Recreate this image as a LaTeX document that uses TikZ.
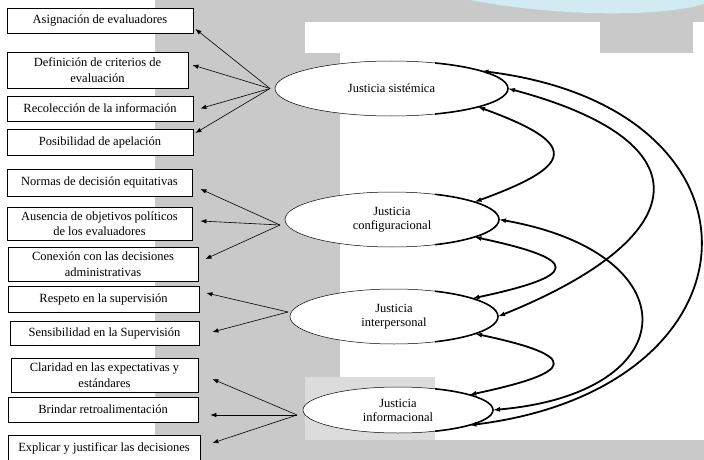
\documentclass[tikz,border=0pt]{standalone}
\usepackage{fontspec}
\setmainfont{Liberation Serif}
\usepackage{xcolor}
\usetikzlibrary{shapes.geometric,arrows.meta}
\definecolor{fondo}{HTML}{C9C9C9}
\definecolor{fondoclaro}{HTML}{DCDCDC}
\definecolor{celeste}{HTML}{D2EBF3}

\begin{document}
\begin{tikzpicture}[x=1pt,y=1pt,node distance={40pt},
    box/.style={draw, line width=0.8pt, fill=white, align=center, inner sep=1pt, font=\fontsize{12.5}{15.5}\selectfont},
    main/.style={draw, ellipse, line width=0.5pt, fill=white, inner sep=0pt, outer sep=0pt, align=center, font=\fontsize{12.5}{14}\selectfont},
    flecha/.style={-{Latex[length=6pt,width=4.5pt]}, line width=0.6pt},
    curva/.style={{Latex[length=7pt,width=5pt]}-{Latex[length=7pt,width=5pt]}, line width=1.8pt}]
    \useasboundingbox (0,0) rectangle (704,-460);
    \fill[white] (0,0) rectangle (704,-460);
    \fill[fondo] (155,0) rectangle (704,-460);
    \fill[celeste] (470,0) .. controls (560,-17) and (660,-17) .. (704,-4) -- (704,0) -- cycle;
    \fill[white] (305,-22) rectangle (600,-53);
    \fill[white] (693,-22) rectangle (704,-53);
    \fill[white] (340,-53) rectangle (704,-440);
    \fill[fondoclaro] (305,-377) rectangle (435,-440);

    \node[box, minimum width=186pt, minimum height=25pt] (1) at (100,-20.5) {Asignación de evaluadores};
    \node[box, minimum width=181pt, minimum height=36pt] (2) [below of=1, xshift=-2.5pt, yshift=-9.5pt] {Definición de criterios de\\evaluación};
    \node[box, minimum width=186pt, minimum height=25pt] (3) [below of=2, xshift=2.5pt, yshift=1.5pt] {Recolección de la información};
    \node[box, minimum width=186pt, minimum height=26pt] (4) [below of=3, yshift=6.5pt] {Posibilidad de apelación};

    \node[box, minimum width=185pt, minimum height=27pt] (5) [below of=4, xshift=-0.5pt, yshift=-0.5pt] {Normas de decisión equitativas};
    \node[box, minimum width=185pt, minimum height=33pt, text depth=0pt] (6) [below of=5, yshift=-1pt] {Ausencia de objetivos políticos\\de los evaluadores};
    \node[box, minimum width=190pt, minimum height=34pt] (7) [below of=6, xshift=3.5pt, yshift=-0.5pt] {Conexión con las decisiones\\administrativas};

    \node[box, minimum width=191pt, minimum height=26pt] (8) [below of=7, xshift=0.5pt, yshift=5pt] {Respeto en la supervisión};
    \node[box, minimum width=189pt, minimum height=24pt] (9) [below of=8, xshift=1pt, yshift=6pt] {Sensibilidad en la Supervisión};

    \node[box, minimum width=187pt, minimum height=34pt] (10) [below of=9, yshift=-2pt] {Claridad en las expectativas y\\estándares};
    \node[box, minimum width=190pt, minimum height=25pt] (11) [below of=10, xshift=-1.5pt, yshift=5.5pt] {Brindar retroalimentación};
    \node[box, minimum width=192pt, minimum height=26pt] (12) [below of=11, xshift=1pt, yshift=1.5pt] {Explicar y justificar las decisiones};

    \node[main, minimum width=233pt, minimum height=55pt] (13) at (391.5,-88.5) {Justicia sistémica};
    \node[main, minimum width=214pt, minimum height=55pt] (14) [below of=13, xshift=0.5pt, yshift=-91pt] {Justicia\\configuracional};
    \node[main, minimum width=208pt, minimum height=55pt] (15) [below of=14, xshift=2pt, yshift=-57pt] {Justicia\\interpersonal};
    \node[main, minimum width=190pt, minimum height=46pt] (16) [below of=15, xshift=4pt, yshift=-53.5pt] {Justicia\\informacional};

    \begin{scope}
        \clip (435,0) rectangle (704,-440);
        \foreach \n/\a/\b in {13/116.5/27.5, 14/107/27.5, 15/104/27.5, 16/95/23}
            \draw[line width=1.6pt] (\n) ellipse [x radius=\a, y radius=\b];
    \end{scope}

    \draw[flecha] ([shift={(-5,0)}]13.west) -- ([shift={(2,-8.5)}]1.east);
    \draw[flecha] ([shift={(-5,0)}]13.west) -- ([shift={(4,5)}]2.east);
    \draw[flecha] ([shift={(-5,0)}]13.west) -- ([shift={(7,0)}]3.east);
    \draw[flecha] ([shift={(-5,0)}]13.west) -- ([shift={(2,9)}]4.east);
    \draw[flecha] ([shift={(-5,-5.5)}]14.west) -- ([shift={(8,-6.5)}]5.east);
    \draw[flecha] ([shift={(-5,-5.5)}]14.west) -- ([shift={(8,2.5)}]6.east);
    \draw[flecha] ([shift={(-5,-5.5)}]14.west) -- ([shift={(7,5)}]7.east);
    \draw[flecha] ([shift={(-2,4.5)}]15.west) -- ([shift={(7,6)}]8.east);
    \draw[flecha] ([shift={(-2,4.5)}]15.west) -- ([shift={(13,1)}]9.east);
    \draw[flecha] ([shift={(-6,-5)}]16.west) -- ([shift={(14,-4)}]10.east);
    \draw[flecha] ([shift={(-6,-5)}]16.west) -- ([shift={(12,-5.5)}]11.east);
    \draw[flecha] ([shift={(-6,-5)}]16.west) -- ([shift={(12,5)}]12.east);

    \draw[curva] (13.11) .. controls +(-7:302) and +(7:302) .. (16.-12);
    \draw[curva] (13.0) .. controls +(-15:210) and +(22:210) .. (15.0);
    \draw[curva] (13.-12) .. controls +(-20:108) and +(20:108) .. (14.12);
    \draw[curva] (14.0) .. controls +(-10:195) and +(5:195) .. (16.0);
    \draw[curva] (14.-12) .. controls +(-12:110) and +(12:110) .. (15.13);
    \draw[curva] (15.-12) .. controls +(-12:109) and +(12:109) .. (16.12);
\end{tikzpicture}
\end{document}
